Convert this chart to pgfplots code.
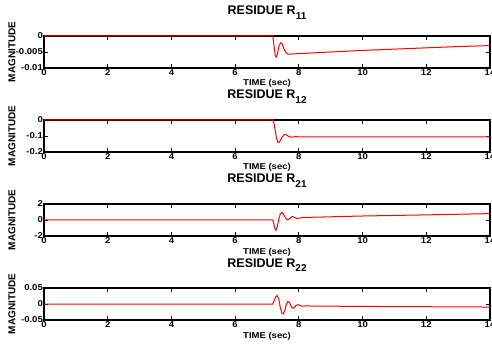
\documentclass[border=0pt]{standalone}
\usepackage{fontspec}
\setmainfont{Liberation Sans}
\newfontfamily\tickfont{Liberation Sans}[FakeStretch=1.12]
\usepackage{pgfplots}
\pgfplotsset{compat=1.18}
\pgfplotsset{
  res/.style={
    anchor=south west,
    scale only axis,
    width=446pt, height=32pt,
    xmin=0, xmax=14,
    xtick={0,2,...,14},
    tick align=inside,
    tick pos=both,
    major tick length=4pt,
    every tick/.style={black, line width=0.9pt},
    axis line style={black, line width=1.5pt},
    clip=false,
    scaled y ticks=false,
    scaled x ticks=false,
    /pgf/number format/assume math mode=true,
    tick label style={font=\tickfont\bfseries\fontsize{8.5}{9}\selectfont},
    yticklabel style={inner sep=1pt, /pgf/number format/fixed, /pgf/number format/precision=3},
    xticklabel style={inner sep=1.5pt},
    title style={at={(axis description cs:0.5,1)}, anchor=base, yshift=15pt, font=\bfseries\fontsize{12.5}{12}\selectfont},
    xlabel={TIME (sec)},
    xlabel style={at={(axis description cs:0.5,0)}, anchor=base, yshift=-18pt, font=\tickfont\bfseries\fontsize{8.5}{9}\selectfont},
    ylabel={MAGNITUDE},
    ylabel style={at={(axis description cs:-0.0717,0.5)}, anchor=center, rotate=0, font=\bfseries\fontsize{10}{10}\selectfont},
  },
  resline/.style={red, line width=1pt},
}
\newcommand{\sub}[1]{\raisebox{-4.5pt}{\fontsize{10}{10}\selectfont #1}}
\begin{document}
\begin{tikzpicture}[x=1pt,y=1pt]
\useasboundingbox (0,0) rectangle (492,343);
% R11
\begin{axis}[res, at={(44pt,275pt)}, ymin=-0.01, ymax=0, ytick={-0.01,-0.005,0},
  title={RESIDUE R\sub{11}}]
\addplot[resline] coordinates {
(0,0) (7.18,0) (7.22,-0.003) (7.26,-0.0062) (7.29,-0.0066) (7.33,-0.0055) (7.38,-0.003)
(7.43,-0.0021) (7.48,-0.0025) (7.54,-0.0042) (7.6,-0.0053) (7.66,-0.0057) (7.72,-0.0057)
(7.8,-0.0056) (8,-0.0055) (9,-0.0050) (10,-0.0045) (11,-0.0041) (12,-0.0037) (13,-0.0033) (14,-0.0030)
};
\end{axis}
% R12
\begin{axis}[res, at={(44pt,191pt)}, ymin=-0.2, ymax=0, ytick={-0.2,-0.1,0},
  title={RESIDUE R\sub{12}}]
\addplot[resline] coordinates {
(0,0) (7.18,0) (7.22,-0.02) (7.26,-0.07) (7.3,-0.115) (7.34,-0.138) (7.38,-0.14) (7.42,-0.128)
(7.48,-0.105) (7.54,-0.092) (7.6,-0.092) (7.66,-0.1) (7.74,-0.107) (7.82,-0.106) (7.9,-0.104)
(8,-0.105) (14,-0.105)
};
\end{axis}
% R21
\begin{axis}[res, at={(44pt,107pt)}, ymin=-2, ymax=2, ytick={-2,0,2},
  title={RESIDUE R\sub{21}}]
\addplot[resline] coordinates {
(0,0) (7.18,0) (7.21,-0.4) (7.25,-1.1) (7.28,-1.3) (7.32,-0.9) (7.37,0.1) (7.42,0.8) (7.47,0.95)
(7.52,0.7) (7.58,0.25) (7.64,0.02) (7.7,0.1) (7.76,0.38) (7.81,0.42) (7.87,0.3) (7.93,0.2)
(8,0.22) (8.1,0.3) (8.5,0.35) (9,0.4) (10,0.5) (11,0.57) (12,0.64) (13,0.72) (14,0.8)
};
\end{axis}
% R22
\begin{axis}[res, at={(44pt,23pt)}, ymin=-0.05, ymax=0.05, ytick={-0.05,0,0.05},
  title={RESIDUE R\sub{22}}]
\addplot[resline] coordinates {
(0,0) (7.18,0) (7.22,0.01) (7.27,0.022) (7.32,0.026) (7.37,0.015) (7.42,-0.012) (7.47,-0.029)
(7.51,-0.031) (7.56,-0.02) (7.61,0.0) (7.66,0.008) (7.71,0.004) (7.76,-0.008) (7.81,-0.013)
(7.86,-0.01) (7.92,-0.004) (7.97,-0.002) (8.03,-0.004) (8.1,-0.007) (8.2,-0.006) (8.5,-0.0065)
(10,-0.0075) (12,-0.0085) (14,-0.0095)
};
\end{axis}
\end{tikzpicture}
\end{document}
